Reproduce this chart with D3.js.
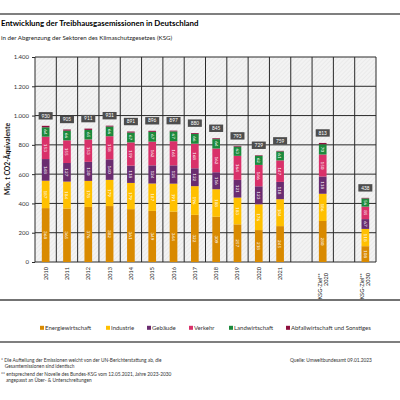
<!DOCTYPE html>
<html><head><meta charset="utf-8">
<script src="https://cdn.jsdelivr.net/npm/d3@7"></script>
<style>html,body{margin:0;padding:0;background:#fff;overflow:hidden}svg{display:block;font-family:Lato,"Open Sans",sans-serif}</style>
</head><body>
<svg id="c" width="400" height="400"></svg>
<script>
// ---- data ----
const columns = ["2010","2011","2012","2013","2014","2015","2016","2017","2018","2019","2020","2021","leer1","KSG2020","leer2","KSG2030"];
const columnLabels = {"KSG2020":["KSG-Ziel**","2020"],"KSG2030":["KSG-Ziel**","2030"],"leer1":[],"leer2":[]};
const barCategories = ["2010","2011","2012","2013","2014","2015","2016","2017","2018","2019","2020","2021","KSG2020","KSG2030"];
const seriesNames = ["Energiewirtschaft","Industrie","Gebäude","Verkehr","Landwirtschaft","Abfallwirtschaft und Sonstiges"];
const energiewirtschaft = [368,365,376,382,361,349,344,322,309,257,218,245,280,108];
const industrie        = [187,184,178,179,179,187,191,196,188,183,176,184,186,118];
const gebaeude         = [148,127,130,140,118,124,125,122,116,121,123,118,118,67];
const verkehr          = [153,155,153,158,159,162,165,168,162,164,146,147,150,85];
const landwirtschaft   = [64,66,65,66,67,67,67,66,64,63,62,61,70,56];
const abfall           = [10,8,9,6,7,7,5,6,6,5,4,4,9,4];
const totals           = [930,905,911,931,891,896,897,880,845,793,729,759,813,438];
const yTicks = [0,200,400,600,800,1000,1200,1400];
const yTickLabels = ["0","200","400","600","800","1.000","1.200","1.400"];
const colors = ["#D98A00","#FFC000","#6A2C70","#D9316A","#1C8A3C","#8E0F3E"];

const seriesValues = [energiewirtschaft,industrie,gebaeude,verkehr,landwirtschaft,abfall];
const table = barCategories.map((c,i)=>{const o={cat:c,total:totals[i]};seriesNames.forEach((s,j)=>o[s]=seriesValues[j][i]);return o;});

const svg = d3.select("#c");
const x = d3.scaleBand().domain(columns).range([35,376]).padding(0);
const y = d3.scaleLinear().domain([0,1400]).range([262,57]);
const bw = x.bandwidth()*0.36;

// hatch pattern
const defs = svg.append("defs");
const pat = defs.append("pattern").attr("id","hatch").attr("patternUnits","userSpaceOnUse").attr("width",3).attr("height",3).attr("patternTransform","rotate(45)");
pat.append("rect").attr("width",3).attr("height",3).attr("fill","#f3f3f3");
pat.append("line").attr("x1",0).attr("y1",0).attr("x2",0).attr("y2",3).attr("stroke","#e2e2e2").attr("stroke-width",1);

// top line
svg.append("line").attr("x1",0).attr("x2",400).attr("y1",14).attr("y2",14).attr("stroke","#555").attr("stroke-width",1.5);
// title
svg.append("text").attr("x",1).attr("y",26).attr("font-size",7.9).attr("font-weight","bold").attr("fill","#000").text("Entwicklung der Treibhausgasemissionen in Deutschland");
svg.append("text").attr("x",1).attr("y",40).attr("font-size",6.2).attr("fill","#222").text("in der Abgrenzung der Sektoren des Klimaschutzgesetzes (KSG)");

// plot background
svg.append("rect").attr("x",35).attr("y",y(1400)).attr("width",376-35).attr("height",y(0)-y(1400)).attr("fill","url(#hatch)");

// grid
const g = svg.append("g");
g.selectAll("line.h").data(yTicks).join("line").attr("x1",35).attr("x2",376).attr("y1",d=>y(d)).attr("y2",d=>y(d)).attr("stroke","#2a2a2a").attr("stroke-width",1);
const vb = columns.map(c=>x(c)).concat([x(columns[columns.length-1])+x.bandwidth()]);
g.selectAll("line.v").data(vb).join("line").attr("x1",d=>d).attr("x2",d=>d).attr("y1",y(1400)).attr("y2",y(0)).attr("stroke","#2a2a2a").attr("stroke-width",1);

// y axis
const ya = svg.append("g").attr("transform","translate(35,0)").call(d3.axisLeft(y).tickValues(yTicks).tickFormat((d,i)=>yTickLabels[i]).tickSize(3));
ya.select(".domain").remove();
ya.selectAll("line").attr("stroke","#2a2a2a");
ya.selectAll("text").attr("font-size",6).attr("fill","#333").attr("font-family","Lato,sans-serif");
svg.append("text").attr("transform","translate(10,159) rotate(-90)").attr("text-anchor","middle").attr("font-size",6.8).attr("font-weight","bold").attr("fill","#111").text("Mio. t CO2-Äquivalente");

// stacked bars
const stack = d3.stack().keys(seriesNames)(table);
const layers = svg.append("g").selectAll("g").data(stack).join("g").attr("fill",(d,i)=>colors[i]);
layers.selectAll("rect").data(d=>d).join("rect")
  .attr("x",d=>x(d.data.cat)+x.bandwidth()/2-bw/2).attr("width",bw)
  .attr("y",d=>y(d[1])).attr("height",d=>y(d[0])-y(d[1]));
// segment labels (not for Abfall)
const lab = svg.append("g");
stack.slice(0,5).forEach((layer,li)=>{
  lab.selectAll(null).data(layer).join("text")
    .attr("transform",d=>`translate(${x(d.data.cat)+x.bandwidth()/2},${y((d[0]+d[1])/2)}) rotate(90)`)
    .attr("text-anchor","middle").attr("dy","0.35em").attr("font-size",4.6).attr("fill","#fff")
    .text(d=>d.data[seriesNames[li]]);
});
// total labels
const tl = svg.append("g").selectAll("g").data(table).join("g")
  .attr("transform",d=>`translate(${x(d.cat)+x.bandwidth()/2},${y(d.total)-10})`);
tl.append("rect").attr("x",-7).attr("y",-3.7).attr("width",14).attr("height",7.4).attr("fill","#4d4d4d");
tl.append("text").attr("text-anchor","middle").attr("dy","0.35em").attr("font-size",4.8).attr("fill","#fff").text(d=>d.total);

// x labels
columns.forEach(c=>{
  const lines = columnLabels[c] || [c];
  const cx = x(c)+x.bandwidth()/2;
  if(lines.length===1){
    svg.append("text").attr("transform",`translate(${cx},267) rotate(-90)`).attr("text-anchor","end").attr("dy","0.35em").attr("font-size",5.6).attr("fill","#222").text(lines[0]);
  } else if(lines.length===2){
    lines.forEach((t,k)=>{
      svg.append("text").attr("transform",`translate(${cx-3+k*6},273) rotate(-90)`).attr("text-anchor","end").attr("dy","0.35em").attr("font-size",5.6).attr("fill","#222").text(t);
    });
  }
});

// separator lines
svg.append("line").attr("x1",0).attr("x2",400).attr("y1",300).attr("y2",300).attr("stroke","#444").attr("stroke-width",1.5);
svg.append("line").attr("x1",0).attr("x2",400).attr("y1",342).attr("y2",342).attr("stroke","#555").attr("stroke-width",1.5);

// legend
const legX = [40,106,147,189,229,286];
const leg = svg.append("g").selectAll("g").data(seriesNames).join("g").attr("transform",(d,i)=>`translate(${legX[i]},328)`);
leg.append("rect").attr("x",0).attr("y",-2.2).attr("width",4).attr("height",4).attr("fill",(d,i)=>colors[i]);
leg.append("text").attr("x",5).attr("dy","0.35em").attr("font-size",6).attr("fill","#333").text(d=>d);

// footnotes
const notes = [["* Die Aufteilung der Emissionen weicht von der UN-Berichterstattung ab, die",1,362],["   Gesamtemissionen sind identisch",1,368],["** entsprechend der Novelle des Bundes-KSG vom 12.05.2021, Jahre 2023-2030",1,375.5],["    angepasst an Über- & Unterschreitungen",1,382]];
svg.append("g").selectAll("text").data(notes).join("text").attr("x",d=>d[1]).attr("y",d=>d[2]).attr("font-size",4.8).attr("fill","#333").attr("xml:space","preserve").style("white-space","pre").text(d=>d[0]);
svg.append("text").attr("x",290).attr("y",362).attr("font-size",4.8).attr("fill","#333").text("Quelle: Umweltbundesamt 09.01.2023");
</script>
</body></html>
